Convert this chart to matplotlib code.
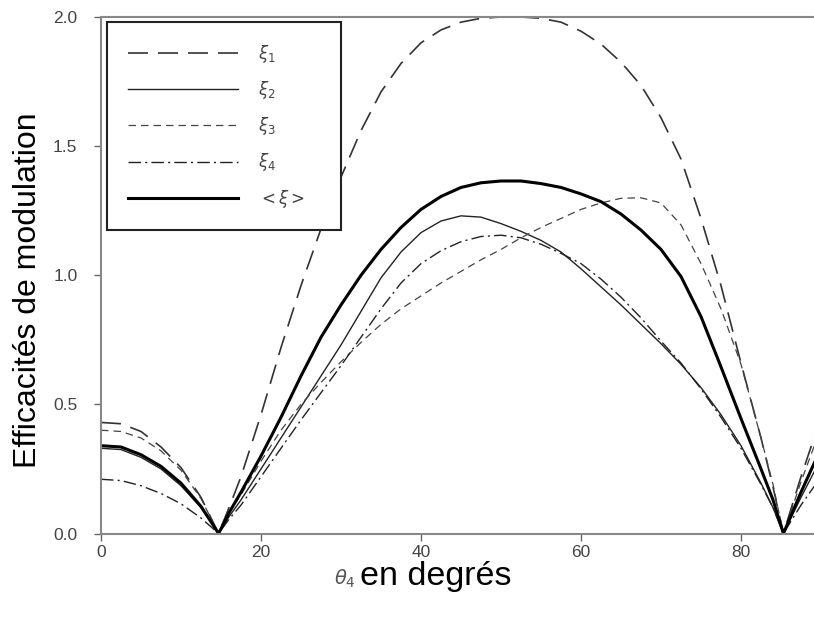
import numpy as np
import matplotlib
matplotlib.use("Agg")
import matplotlib.pyplot as plt

plt.rcParams['font.family'] = ['Liberation Sans', 'DejaVu Sans']
plt.rcParams['mathtext.fontset'] = 'dejavusans'

# angle theta_4 (degrees) where the curves are read
theta = [0, 2.5, 5, 7.5, 10, 12.5, 14.7,
         16, 17.5, 20, 22.5, 25, 27.5, 30, 32.5, 35, 37.5, 40, 42.5, 45, 47.5,
         50, 52.5, 55, 57.5, 60, 62.5, 65, 67.5, 70, 72.5, 75, 77.5, 80,
         82.5, 84, 85.3, 87.5, 90]

xi1 = [0.43, 0.425, 0.395, 0.335, 0.255, 0.14, 0.0,
       0.10, 0.22, 0.46, 0.72, 0.96, 1.18, 1.38, 1.56, 1.71, 1.82, 1.90, 1.95, 1.98, 1.995,
       2.0, 2.0, 1.995, 1.98, 1.945, 1.895, 1.825, 1.735, 1.61, 1.45, 1.22, 0.96, 0.66,
       0.37, 0.18, 0.0, 0.22, 0.45]
xi2 = [0.33, 0.325, 0.295, 0.25, 0.185, 0.10, 0.0,
       0.065, 0.13, 0.25, 0.37, 0.49, 0.61, 0.73, 0.86, 0.99, 1.09, 1.165, 1.21, 1.23, 1.225,
       1.20, 1.17, 1.135, 1.09, 1.025, 0.955, 0.885, 0.81, 0.735, 0.655, 0.565, 0.46, 0.34,
       0.195, 0.10, 0.0, 0.14, 0.29]
xi3 = [0.40, 0.395, 0.37, 0.32, 0.245, 0.135, 0.0,
       0.08, 0.15, 0.28, 0.40, 0.50, 0.585, 0.665, 0.74, 0.81, 0.87, 0.92, 0.97, 1.015, 1.06,
       1.10, 1.145, 1.185, 1.22, 1.255, 1.28, 1.298, 1.30, 1.28, 1.195, 1.045, 0.87, 0.655,
       0.37, 0.19, 0.0, 0.20, 0.41]
xi4 = [0.21, 0.205, 0.185, 0.155, 0.115, 0.06, 0.0,
       0.055, 0.11, 0.22, 0.33, 0.44, 0.545, 0.65, 0.76, 0.87, 0.97, 1.045, 1.095, 1.13, 1.15,
       1.155, 1.145, 1.12, 1.085, 1.045, 0.985, 0.915, 0.835, 0.745, 0.66, 0.56, 0.45, 0.33,
       0.19, 0.10, 0.0, 0.11, 0.22]
xi_moy = [0.34, 0.335, 0.305, 0.26, 0.195, 0.105, 0.0,
          0.08, 0.16, 0.30, 0.45, 0.61, 0.76, 0.885, 1.00, 1.10, 1.185, 1.255, 1.305, 1.34, 1.358,
          1.365, 1.365, 1.355, 1.34, 1.315, 1.285, 1.237, 1.175, 1.10, 0.995, 0.84, 0.645, 0.445,
          0.25, 0.13, 0.0, 0.16, 0.33]

fig = plt.figure(figsize=(8.14, 6.23), dpi=100)
ax = fig.add_axes([101/814, 89.5/623, 720/814, 516.5/623])

ax.plot(theta, xi1, color='#333333', lw=1.2, dashes=(12, 6), label=r'$\xi_1$')
ax.plot(theta, xi2, color='#222222', lw=1.0, label=r'$\xi_2$')
ax.plot(theta, xi3, color='#444444', lw=0.9, dashes=(6, 4), label=r'$\xi_3$')
ax.plot(theta, xi4, color='#222222', lw=1.0, dashes=(9, 3, 1.5, 3), label=r'$\xi_4$')
ax.plot(theta, xi_moy, color='black', lw=2.2, label=r'$<\xi>$')

ax.set_xlim(0, 90)
ax.set_ylim(0, 2.0)
ax.set_xticks([0, 20, 40, 60, 80])
ax.set_yticks([0.0, 0.5, 1.0, 1.5, 2.0])
ax.set_yticklabels(['0.0', '0.5', '1.0', '1.5', '2.0'])
ax.tick_params(colors='#666666', labelcolor='#444444', labelsize=12.5,
               length=5, width=1, direction='out')
ax.tick_params(axis='y', pad=12)
for s in ['left', 'bottom', 'top']:
    ax.spines[s].set_color('#888888')
    ax.spines[s].set_linewidth(1.5)
ax.spines['right'].set_visible(False)

leg = ax.legend(loc='upper left', bbox_to_anchor=(0.0083, 0.6, 0.325, 0.39),
                mode='expand', fancybox=False, framealpha=1, edgecolor='#222222',
                fontsize=12, handlelength=6.6, handletextpad=1.2,
                labelspacing=0.85, borderpad=1.25, borderaxespad=0)
leg.get_frame().set_linewidth(1.5)
for t in leg.get_texts():
    t.set_color('#444444')

fig.text(28/814, 1 - 290/623, 'Efficacités de modulation', rotation=90,
         fontsize=23, ha='center', va='center', color='black')
fig.text(334/814, 1 - 585/623, r'$\theta_4$', fontsize=14, color='#555555',
         ha='left', va='baseline')
fig.text(360/814, 1 - 585/623, 'en degrés', fontsize=24.5, color='black',
         ha='left', va='baseline')

fig.savefig('out.png', dpi=100)
